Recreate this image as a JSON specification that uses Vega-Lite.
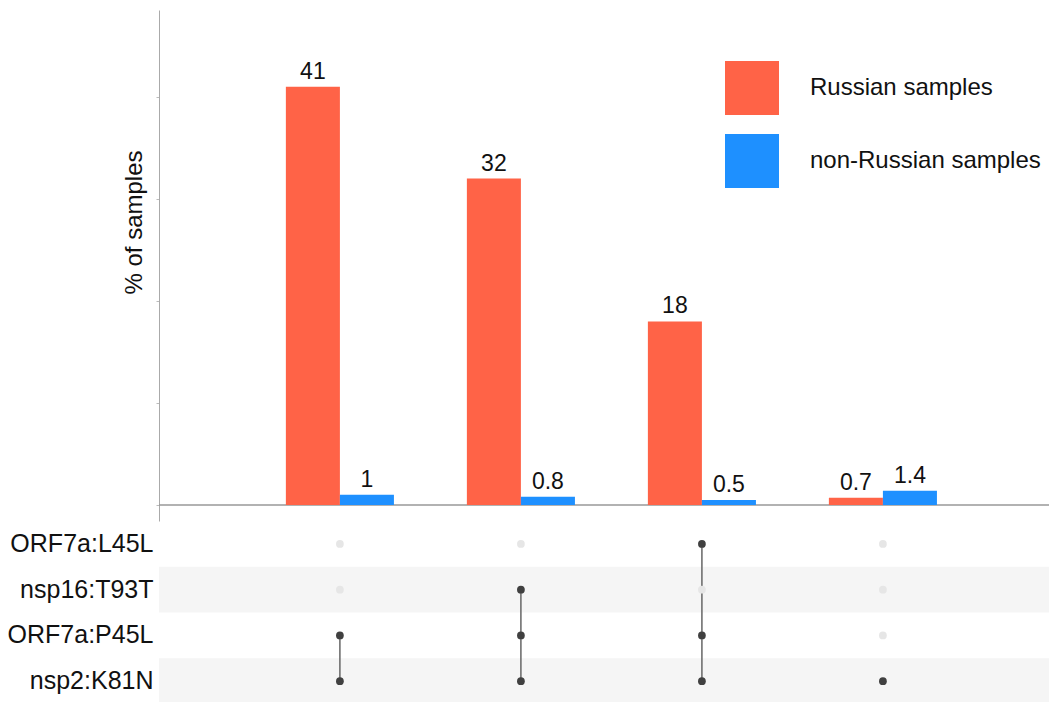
{
  "$schema": "https://vega.github.io/schema/vega-lite/v6.json",
  "padding": {"left": 7, "top": 10, "right": 0, "bottom": 0},
  "config": {
    "view": {"stroke": null},
    "font": "Liberation Sans",
    "text": {"font": "Liberation Sans"}
  },
  "spacing": 0,
  "resolve": {"scale": {"x": "independent", "y": "independent", "color": "independent"}},
  "vconcat": [
    {
      "width": 890,
      "height": 511,
      "data": {
        "values": [
          {"combo": "P45L+K81N", "origin": "Russian samples", "pct": 41},
          {"combo": "P45L+K81N", "origin": "non-Russian samples", "pct": 1},
          {"combo": "T93T+P45L+K81N", "origin": "Russian samples", "pct": 32},
          {"combo": "T93T+P45L+K81N", "origin": "non-Russian samples", "pct": 0.8},
          {"combo": "L45L+P45L+K81N", "origin": "Russian samples", "pct": 18},
          {"combo": "L45L+P45L+K81N", "origin": "non-Russian samples", "pct": 0.5},
          {"combo": "K81N", "origin": "Russian samples", "pct": 0.7},
          {"combo": "K81N", "origin": "non-Russian samples", "pct": 1.4}
        ]
      },
      "encoding": {
        "y": {
          "field": "pct",
          "type": "quantitative",
          "scale": {"domain": [-1.57, 48.53], "nice": false, "zero": false},
          "axis": {
            "values": [0, 10, 20, 30, 40],
            "labels": false,
            "grid": false,
            "tickSize": 3,
            "tickColor": "#bbbbbb",
            "domainColor": "#aaaaaa",
            "title": "% of samples",
            "titleFontSize": 24,
            "titleFontWeight": "normal",
            "titleColor": "#111111",
            "titleFont": "Liberation Sans",
            "titleX": -13,
            "titleY": 212
          }
        }
      },
      "layer": [
        {
          "data": {"values": [{"base": 0}]},
          "mark": {"type": "rule", "color": "#999999", "strokeWidth": 1.5},
          "encoding": {"y": {"field": "base", "type": "quantitative"}}
        },
        {
          "mark": {"type": "bar"},
          "encoding": {
            "x": {
              "field": "combo",
              "type": "nominal",
              "sort": null,
              "axis": null,
              "scale": {
                "type": "band",
                "domain": ["P45L+K81N", "T93T+P45L+K81N", "L45L+P45L+K81N", "K81N"],
                "paddingInner": 0.403,
                "paddingOuter": 0.66,
                "align": 0.531,
                "round": false
              }
            },
            "xOffset": {
              "field": "origin",
              "type": "nominal",
              "scale": {"domain": ["Russian samples", "non-Russian samples"], "paddingInner": 0, "paddingOuter": 0}
            },
            "color": {
              "field": "origin",
              "type": "nominal",
              "scale": {"domain": ["Russian samples", "non-Russian samples"], "range": ["#FF6347", "#1E90FF"]},
              "legend": {
                "title": null,
                "orient": "none",
                "legendX": 566,
                "legendY": 51,
                "padding": 0,
                "symbolType": "square",
                "symbolSize": 2916,
                "symbolStrokeWidth": 0,
                "symbolOpacity": 1,
                "labelFontSize": 24,
                "labelFont": "Liberation Sans",
                "labelColor": "#111111",
                "labelOffset": 31,
                "rowPadding": 19,
                "labelLimit": 400
              }
            }
          }
        },
        {
          "mark": {"type": "text", "baseline": "bottom", "dy": -3, "fontSize": 23, "color": "#111111"},
          "encoding": {
            "x": {"field": "combo", "type": "nominal", "sort": null},
            "xOffset": {"field": "origin", "type": "nominal"},
            "text": {"field": "pct", "type": "quantitative"}
          }
        }
      ]
    },
    {
      "width": 890,
      "height": 183,
      "encoding": {
        "x": {
          "field": "combo",
          "type": "nominal",
          "sort": null,
          "axis": null,
          "scale": {
            "type": "band",
            "domain": ["P45L+K81N", "T93T+P45L+K81N", "L45L+P45L+K81N", "K81N"],
            "paddingInner": 0.403,
            "paddingOuter": 0.66,
            "align": 0.531,
            "round": false
          }
        }
      },
      "layer": [
        {
          "data": {"values": [{"mutation": "nsp16:T93T"}, {"mutation": "nsp2:K81N"}]},
          "mark": {"type": "rect", "color": "#f5f5f5"},
          "encoding": {
            "x": {"value": 0},
            "x2": {"value": "width"},
            "y": {
              "field": "mutation",
              "type": "nominal",
              "scale": {"domain": ["ORF7a:L45L", "nsp16:T93T", "ORF7a:P45L", "nsp2:K81N"], "paddingInner": 0, "paddingOuter": 0},
              "axis": {
                "title": null,
                "ticks": false,
                "domain": false,
                "labelPadding": 6,
                "labelFontSize": 25,
                "labelFont": "Liberation Sans",
                "labelColor": "#111111",
                "labelLimit": 300
              }
            }
          }
        },
        {
          "data": {
            "values": [
              {"combo": "P45L+K81N", "from": "ORF7a:P45L", "to": "nsp2:K81N"},
              {"combo": "T93T+P45L+K81N", "from": "nsp16:T93T", "to": "nsp2:K81N"},
              {"combo": "L45L+P45L+K81N", "from": "ORF7a:L45L", "to": "nsp2:K81N"}
            ]
          },
          "mark": {"type": "rule", "color": "#666666", "strokeWidth": 1.5},
          "encoding": {
            "y": {"field": "from", "type": "nominal"},
            "y2": {"field": "to"}
          }
        },
        {
          "data": {
            "values": [
              {"combo": "P45L+K81N", "mutation": "ORF7a:L45L", "active": false},
              {"combo": "P45L+K81N", "mutation": "nsp16:T93T", "active": false},
              {"combo": "P45L+K81N", "mutation": "ORF7a:P45L", "active": true},
              {"combo": "P45L+K81N", "mutation": "nsp2:K81N", "active": true},
              {"combo": "T93T+P45L+K81N", "mutation": "ORF7a:L45L", "active": false},
              {"combo": "T93T+P45L+K81N", "mutation": "nsp16:T93T", "active": true},
              {"combo": "T93T+P45L+K81N", "mutation": "ORF7a:P45L", "active": true},
              {"combo": "T93T+P45L+K81N", "mutation": "nsp2:K81N", "active": true},
              {"combo": "L45L+P45L+K81N", "mutation": "ORF7a:L45L", "active": true},
              {"combo": "L45L+P45L+K81N", "mutation": "nsp16:T93T", "active": false},
              {"combo": "L45L+P45L+K81N", "mutation": "ORF7a:P45L", "active": true},
              {"combo": "L45L+P45L+K81N", "mutation": "nsp2:K81N", "active": true},
              {"combo": "K81N", "mutation": "ORF7a:L45L", "active": false},
              {"combo": "K81N", "mutation": "nsp16:T93T", "active": false},
              {"combo": "K81N", "mutation": "ORF7a:P45L", "active": false},
              {"combo": "K81N", "mutation": "nsp2:K81N", "active": true}
            ]
          },
          "mark": {"type": "circle", "size": 60, "opacity": 1},
          "encoding": {
            "y": {"field": "mutation", "type": "nominal"},
            "color": {"condition": {"test": "datum.active", "value": "#404040"}, "value": "#e6e6e6"}
          }
        }
      ]
    }
  ]
}
